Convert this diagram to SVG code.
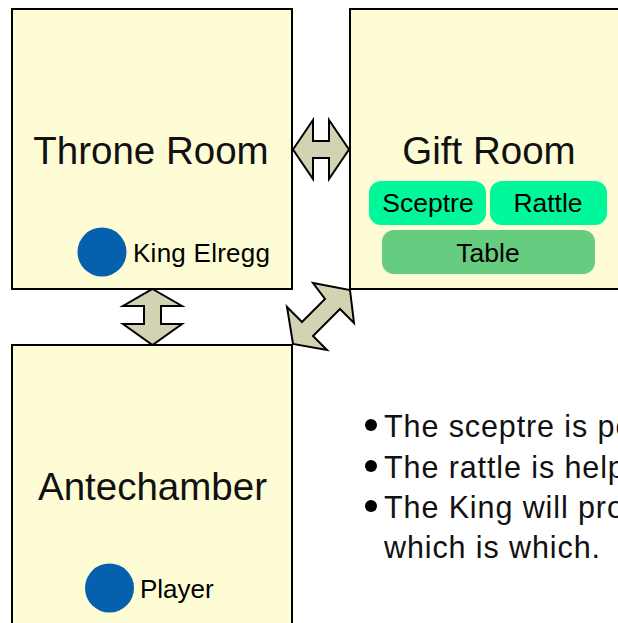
<svg xmlns="http://www.w3.org/2000/svg" width="618" height="623" viewBox="0 0 618 623">
<style>
.room{fill:#fefcd4;stroke:#000;stroke-width:2}
.title{font-family:"Liberation Sans",Arial,sans-serif;font-size:38.5px;fill:#111;text-anchor:middle}
.lbl{font-family:"Liberation Sans",Arial,sans-serif;font-size:26px;fill:#000}
.item{font-family:"Liberation Sans",Arial,sans-serif;font-size:26.5px;fill:#000;text-anchor:middle}
.note{font-family:"Liberation Sans",Arial,sans-serif;font-size:30.5px;letter-spacing:0.9px;fill:#111}
.dot{fill:#0560ae}
.arrow{fill:#d3d3b3;stroke:#000;stroke-width:2;stroke-linejoin:miter}
</style>
<rect width="618" height="623" fill="#fff"/>
<g id="throne-room">
<rect class="room" x="12" y="9" width="280" height="280"/>
<text class="title" x="151" y="164">Throne Room</text>
<g id="king-elregg">
<circle class="dot" cx="102" cy="252" r="24.5"/>
<text class="lbl" x="133" y="262" textLength="137">King Elregg</text>
</g>
</g>
<g id="gift-room">
<rect class="room" x="350" y="9" width="300" height="280"/>
<text class="title" x="489" y="164">Gift Room</text>
<g id="sceptre">
<rect x="369" y="181" width="117" height="44" rx="12" fill="#00f89a"/>
<text class="item" x="428" y="212">Sceptre</text>
</g>
<g id="rattle">
<rect x="490" y="181" width="117" height="44" rx="12" fill="#00f89a"/>
<text class="item" x="548" y="212">Rattle</text>
</g>
<g id="table">
<rect x="382" y="230" width="213" height="44" rx="12" fill="#66cc80"/>
<text class="item" x="488" y="262">Table</text>
</g>
</g>
<g id="antechamber">
<rect class="room" x="12" y="345" width="280" height="300"/>
<text class="title" x="152.5" y="500">Antechamber</text>
<g id="player">
<circle class="dot" cx="109.5" cy="588" r="24.5"/>
<text class="lbl" x="140" y="598">Player</text>
</g>
</g>
<g id="connectors">
<polygon class="arrow" points="293,149.5 313,120 313,141 329,141 329,120 349,149.5 329,179 329,158 313,158 313,179"/>
<polygon class="arrow" points="152.5,289 182,306 161,306 161,324 182,324 152.5,345 123,324 144,324 144,306 123,306"/>
<polygon class="arrow" points="350,290 354,323 340,309 313,336 327,350 293,344 287,307 302,322 325,299 313,283"/>
</g>
<g id="notes">
<circle cx="371" cy="425" r="6" fill="#000"/>
<text class="note" x="384" y="437">The sceptre is po</text>
<circle cx="371" cy="466" r="6" fill="#000"/>
<text class="note" x="384" y="478">The rattle is help</text>
<circle cx="371" cy="506" r="6" fill="#000"/>
<text class="note" x="384" y="518">The King will pro</text>
<text class="note" x="384" y="558">which is which.</text>
</g>
</svg>
